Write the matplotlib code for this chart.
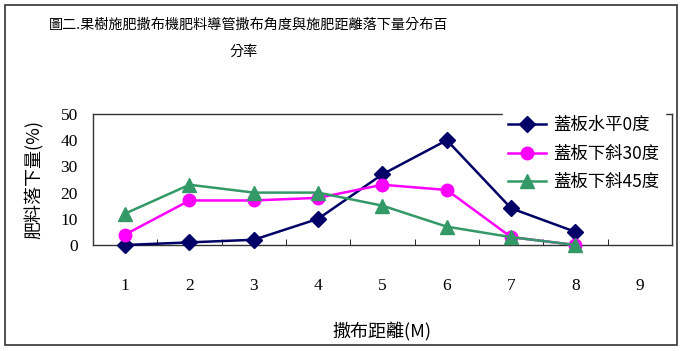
import matplotlib.pyplot as plt
from matplotlib.patches import Rectangle

plt.rcParams["font.family"] = ["Noto Sans CJK TC", "DejaVu Sans"]

DISTANCE = [1, 2, 3, 4, 5, 6, 7, 8, 9]
FLAT_0 = [0, 1, 2, 10, 27, 40, 14, 5]
DOWN_30 = [4, 17, 17, 18, 23, 21, 3, 0]
DOWN_45 = [12, 23, 20, 20, 15, 7, 3, 0]
SERIES_NAMES = ["蓋板水平0度", "蓋板下斜30度", "蓋板下斜45度"]

W, H = 681, 351
fig = plt.figure(figsize=(W / 100, H / 100), dpi=100, facecolor="white")

# outer border
fig.patches.append(Rectangle((5 / W, 1 - 345 / H), 672 / W, 340 / H,
                             transform=fig.transFigure, fill=False,
                             edgecolor="#333333", linewidth=1.2))

ax = fig.add_axes([93 / W, 1 - 245 / H, (672 - 93) / W, (245 - 114) / H])

styles = [
    dict(color="#000066", marker="D", markersize=8),
    dict(color="#FF00FF", marker="o", markersize=9),
    dict(color="#339966", marker="^", markersize=10),
]
for values, name, st in zip([FLAT_0, DOWN_30, DOWN_45], SERIES_NAMES, styles):
    ax.plot(DISTANCE[:len(values)], values, linewidth=1.8, label=name,
            clip_on=False, zorder=3, **st)

ax.set_xlim(0.5, 9.5)
ax.set_ylim(0, 50)
ax.set_yticks(range(0, 51, 10))
ax.set_xticks(DISTANCE)
ax.set_xticks([x + 0.5 for x in DISTANCE[:-1]], minor=True)
ax.tick_params(axis="x", which="major", length=0, pad=24)
ax.tick_params(axis="x", which="minor", length=4, direction="in")
ax.tick_params(axis="y", length=0, pad=11)
for lab in ax.get_xticklabels() + ax.get_yticklabels():
    lab.set_fontfamily("Liberation Serif")
    lab.set_fontsize(12.5)
for sp in ax.spines.values():
    sp.set_color("#333333")
    sp.set_linewidth(1.0)

ax.set_xlabel("撒布距離(M)", fontsize=13, labelpad=20)
ax.set_ylabel("肥料落下量(%)", fontsize=13, labelpad=12)

fig.text(249 / W, 1 - 25 / H, "圖二.果樹施肥撒布機肥料導管撒布角度與施肥距離落下量分布百",
         ha="center", va="center", fontsize=10.2)
fig.text(244 / W, 1 - 52 / H, "分率", ha="center", va="center", fontsize=10.2)

leg = ax.legend(loc="upper left", bbox_to_anchor=(503 / W, 1 - 111 / H),
                bbox_transform=fig.transFigure, frameon=True, fontsize=12.5,
                handlelength=2.2, labelspacing=0.6, borderaxespad=0,
                handletextpad=0.4, borderpad=0.3)
leg.get_frame().set_edgecolor("white")
leg.get_frame().set_facecolor("white")
leg.get_frame().set_alpha(1)
leg.get_frame().set_boxstyle("square", pad=0)

fig.savefig("out.png", dpi=100)
